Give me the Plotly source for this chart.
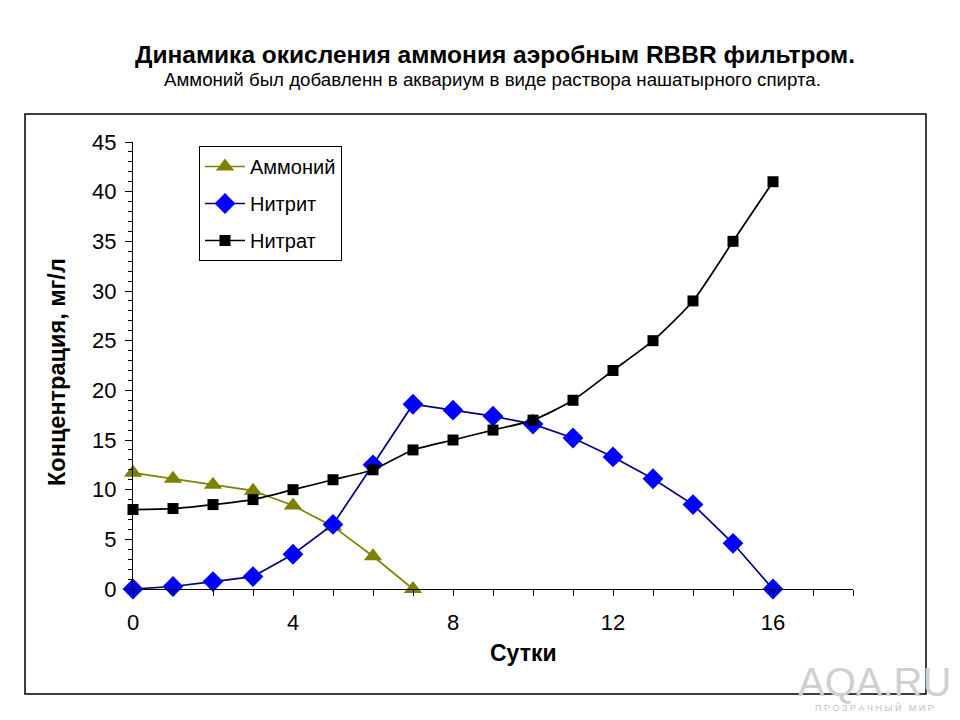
import plotly.graph_objects as go

days = list(range(0, 17))
ammonium_days = [0, 1, 2, 3, 4, 5, 6, 7]
ammonium = [11.7, 11.1, 10.5, 9.9, 8.4, 6.3, 3.3, 0.0]
nitrite = [0.0, 0.25, 0.75, 1.25, 3.5, 6.5, 12.5, 18.6, 18.0, 17.4, 16.6, 15.2, 13.3, 11.1, 8.5, 4.6, 0.0]
nitrate = [8.0, 8.1, 8.5, 9.0, 10.0, 11.0, 12.0, 14.0, 15.0, 16.0, 17.0, 19.0, 22.0, 25.0, 29.0, 35.0, 41.0]

title_text = "Динамика окисления аммония аэробным RBBR фильтром."
subtitle_text = "Аммоний был добавленн в аквариум в виде раствора нашатырного спирта."
x_title = "Сутки"
y_title = "Концентрация, мг/л"

FONT = "Arial, 'Liberation Sans', sans-serif"
W, H = 960, 720
L, R, T, B = 133, 853, 142, 589

def px(x):
    return (x - L) / (R - L)

def py(y):
    return (B - y) / (B - T)

fig = go.Figure()
fig.add_trace(go.Scatter(
    x=ammonium_days, y=ammonium, name="Аммоний", legendgroup="a",
    mode="lines+markers", line=dict(color="#808000", width=1.7),
    marker=dict(symbol="triangle-up", size=16, color="#808000"),
    cliponaxis=False))
fig.add_trace(go.Scatter(
    x=days, y=nitrite, name="Нитрит", legendgroup="b",
    mode="lines+markers", line=dict(color="#000080", width=1.7),
    marker=dict(symbol="diamond", size=16, color="#0000FF"),
    cliponaxis=False))
fig.add_trace(go.Scatter(
    x=days, y=nitrate, name="Нитрат", legendgroup="c",
    mode="lines+markers", line=dict(color="#000000", width=1.7, shape="spline", smoothing=0.6),
    marker=dict(symbol="square", size=11, color="#000000"),
    cliponaxis=False))

fig.update_layout(
    width=W, height=H,
    margin=dict(l=L, r=W - R, t=T, b=H - B),
    paper_bgcolor="white", plot_bgcolor="white",
    font=dict(family=FONT, color="black"),
    showlegend=True,
    legend=dict(
        x=px(199), y=py(146), xanchor="left", yanchor="top",
        bordercolor="black", borderwidth=1, bgcolor="white",
        font=dict(size=20, family=FONT), traceorder="grouped",
        tracegroupgap=8, itemwidth=40),
    xaxis=dict(
        range=[0, 18], dtick=4, tick0=0, showgrid=False, zeroline=False,
        showline=True, linecolor="black", linewidth=1,
        ticks="outside", ticklen=6, tickcolor="black",
        tickfont=dict(size=22, family=FONT), ticklabelstandoff=8,
        minor=dict(dtick=1, ticks="outside", ticklen=6, tickcolor="black"),
        fixedrange=True),
    yaxis=dict(
        range=[0, 45], dtick=5, tick0=0, showgrid=False, zeroline=False,
        showline=True, linecolor="black", linewidth=1,
        ticks="outside", ticklen=7, tickcolor="black",
        tickfont=dict(size=22, family=FONT), ticklabelstandoff=4,
        minor=dict(dtick=1, ticks="outside", ticklen=4, tickcolor="black"),
        fixedrange=True),
    shapes=[dict(type="rect", xref="paper", yref="paper",
                 x0=px(25), x1=px(926), y0=py(694), y1=py(114),
                 line=dict(color="black", width=1.5), layer="below")],
    annotations=[
        dict(text="<b>" + title_text + "</b>", x=px(495), y=py(55), xref="paper", yref="paper",
             showarrow=False, xanchor="center", yanchor="middle", font=dict(size=24.5, family=FONT)),
        dict(text=subtitle_text, x=px(492), y=py(80), xref="paper", yref="paper",
             showarrow=False, xanchor="center", yanchor="middle", font=dict(size=18.7, family=FONT)),
        dict(text="<b>" + x_title + "</b>", x=px(523), y=py(653), xref="paper", yref="paper",
             showarrow=False, xanchor="center", yanchor="middle", font=dict(size=23, family=FONT)),
        dict(text="<b>" + y_title + "</b>", x=px(57), y=py(372), xref="paper", yref="paper",
             showarrow=False, xanchor="center", yanchor="middle", textangle=-90,
             font=dict(size=23.5, family=FONT)),
        dict(text="AQA.RU", x=px(875), y=py(682), xref="paper", yref="paper",
             showarrow=False, xanchor="center", yanchor="middle",
             font=dict(size=40, family=FONT, color="#d0d0d0")),
        dict(text="П Р О З Р А Ч Н Ы Й   М И Р", x=px(875), y=py(707), xref="paper", yref="paper",
             showarrow=False, xanchor="center", yanchor="middle",
             font=dict(size=9, family=FONT, color="#c0c0c0")),
    ],
)

fig.write_html("out.html")
